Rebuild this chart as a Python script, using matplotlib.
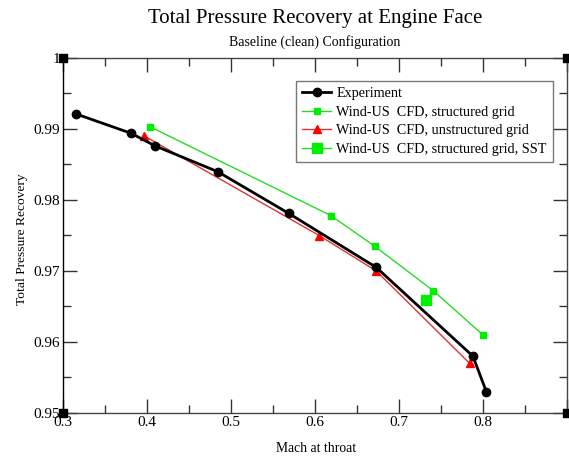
import matplotlib
matplotlib.use("Agg")
import matplotlib.pyplot as plt
from matplotlib.ticker import MultipleLocator, FixedLocator

exp_x = [0.316, 0.381, 0.410, 0.484, 0.569, 0.673, 0.788, 0.804]
exp_y = [0.9921, 0.9894, 0.9876, 0.9840, 0.9781, 0.9705, 0.9580, 0.9530]

str_x = [0.404, 0.619, 0.671, 0.741, 0.800]
str_y = [0.9903, 0.9778, 0.9735, 0.9672, 0.9610]

uns_x = [0.397, 0.605, 0.673, 0.784]
uns_y = [0.9890, 0.9750, 0.9700, 0.9570]

sst_x = [0.732]
sst_y = [0.9659]

xticks = [0.3, 0.4, 0.5, 0.6, 0.7, 0.8]
xticklabels = ["0.3", "0.4", "0.5", "0.6", "0.7", "0.8"]
yticks = [0.95, 0.96, 0.97, 0.98, 0.99, 1.0]
yticklabels = ["0.95", "0.96", "0.97", "0.98", "0.99", "1"]

plt.rcParams['font.family'] = ['Liberation Serif', 'DejaVu Serif']

W, H = 569, 461
fig = plt.figure(figsize=(W/100, H/100), dpi=100)
L, R, T, B = 63, 567, 58, 413
ax = fig.add_axes([L/W, 1-B/H, (R-L)/W, (B-T)/H])

ax.plot(exp_x, exp_y, color='black', lw=2, marker='o', ms=6, label='Experiment', zorder=5)
ax.plot(str_x, str_y, color='#22dd22', lw=1, marker='s', ms=4, mfc='#00ee00', mec='#00ee00',
        label='Wind-US  CFD, structured grid', zorder=3)
ax.plot(uns_x, uns_y, color='#dd3333', lw=1, marker='^', ms=6, mfc='red', mec='red',
        label='Wind-US  CFD, unstructured grid', zorder=4)
ax.plot(sst_x, sst_y, color='#22dd22', lw=1, marker='s', ms=7, mfc='#00ee00', mec='#00ee00',
        label='Wind-US  CFD, structured grid, SST', zorder=3)

ax.set_xlim(0.3, 0.9)
ax.set_ylim(0.95, 1.0)
ax.xaxis.set_major_locator(FixedLocator(xticks + [0.9]))
ax.set_xticklabels(xticklabels + [""])
ax.xaxis.set_minor_locator(MultipleLocator(0.05))
ax.yaxis.set_major_locator(FixedLocator(yticks))
ax.set_yticklabels(yticklabels)
ax.yaxis.set_minor_locator(MultipleLocator(0.005))
ax.tick_params(which='both', direction='in', top=True, right=True, colors='#333333',
               labelcolor='black', labelsize=11)
ax.tick_params(which='major', length=10, width=1)
ax.tick_params(which='minor', length=6, width=1)
ax.tick_params(axis='x', pad=2)
ax.tick_params(axis='y', pad=2)
for s in ax.spines.values():
    s.set_color('#444444')
    s.set_linewidth(1)
ax.spines['left'].set_color('black')

# corner squares
ax.scatter([0, 0, 1, 1], [0, 1, 0, 1], marker='s', s=40, color='black',
           transform=ax.transAxes, clip_on=False, zorder=10)

fig.text(316/W, 1-448/H, 'Mach at throat', ha='center', va='center', fontsize=9.8)
fig.text(22/W, 1-239/H, 'Total Pressure Recovery', ha='center', va='center', fontsize=9.7, rotation=90)

fig.text(315/W, 1-18/H, 'Total Pressure Recovery at Engine Face', ha='center', va='center', fontsize=15)
fig.text(315/W, 1-42/H, 'Baseline (clean) Configuration', ha='center', va='center', fontsize=10)

leg = ax.legend(loc='upper left', bbox_to_anchor=((296-L)/(R-L), 1-(81-T)/(B-T)),
                fontsize=10.2, frameon=True, fancybox=False, borderaxespad=0,
                handlelength=2.0, handletextpad=0.4, labelspacing=0.38, borderpad=0.45)
leg.get_frame().set_edgecolor('#555555')
leg.get_frame().set_linewidth(1)

fig.savefig('out.png', dpi=100)
